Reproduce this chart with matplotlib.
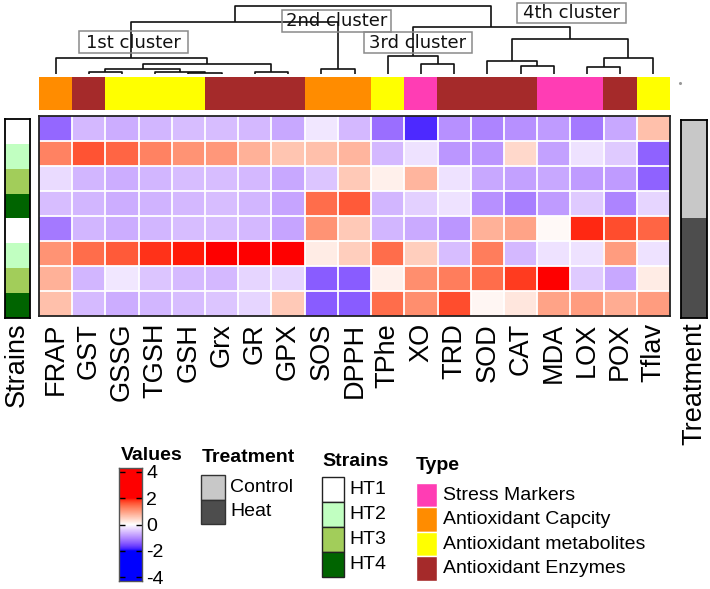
import numpy as np
import matplotlib
matplotlib.use("Agg")
import matplotlib.pyplot as plt
from matplotlib.colors import ListedColormap, Normalize
from matplotlib.patches import Rectangle

# ---------------- data ----------------
variables = ["FRAP", "GST", "GSSG", "TGSH", "GSH", "Grx", "GR", "GPX", "SOS", "DPPH",
             "TPhe", "XO", "TRD", "SOD", "CAT", "MDA", "LOX", "POX", "Tflav"]
var_type = ["Antioxidant Capcity", "Antioxidant Enzymes", "Antioxidant metabolites",
            "Antioxidant metabolites", "Antioxidant metabolites", "Antioxidant Enzymes",
            "Antioxidant Enzymes", "Antioxidant Enzymes", "Antioxidant Capcity",
            "Antioxidant Capcity", "Antioxidant metabolites", "Stress Markers",
            "Antioxidant Enzymes", "Antioxidant Enzymes", "Antioxidant Enzymes",
            "Stress Markers", "Stress Markers", "Antioxidant Enzymes",
            "Antioxidant metabolites"]
strains = ["HT1", "HT2", "HT3", "HT4", "HT1", "HT2", "HT3", "HT4"]
treatment = ["Control"] * 4 + ["Heat"] * 4

row1 = [-1.3, -0.6, -0.7, -0.62, -0.55, -0.55, -0.6, -0.75, -0.2, -0.6,
        -1.25, -1.8, -0.95, -1.05, -0.95, -0.85, -1.15, -0.75, 0.65]
row2 = [1.25, 1.65, 1.5, 1.25, 1.1, 1.05, 0.8, 0.6, 0.65, 0.75,
        -0.6, -0.25, -0.9, -0.9, 0.4, -0.8, -0.25, -0.45, -1.35]
row3 = [-0.3, -0.62, -0.7, -0.62, -0.55, -0.55, -0.6, -0.75, -0.5, 0.55,
        0.15, 0.75, -0.25, -0.75, -0.8, -0.75, -0.85, -0.85, -1.35]
row4 = [-0.55, -0.62, -0.7, -0.65, -0.6, -0.55, -0.62, -0.78, 1.45, 1.6,
        -0.62, -0.4, -0.25, -0.95, -1.1, -0.85, -0.45, -1.05, -0.35]
row5 = [-1.15, -0.62, -0.7, -0.62, -0.55, -0.55, -0.6, -0.78, 1.1, 0.55,
        -0.62, -0.72, -0.9, 0.8, 0.95, 0.05, 1.9, 1.7, 1.5]
row6 = [1.1, 1.45, 1.6, 1.85, 1.95, 2.05, 2.05, 2.05, 0.2, 0.5,
        1.45, 0.5, -0.55, 1.3, -0.6, -0.25, -0.25, 1.0, -0.25]
row7 = [0.8, -0.62, -0.2, -0.5, -0.58, -0.6, -0.35, -0.35, -1.4, -1.4,
        0.15, 1.15, 1.3, 1.45, 1.8, 2.0, -0.45, -0.75, 0.2]
row8 = [0.65, -0.58, -0.7, -0.62, -0.55, -0.5, -0.35, 0.55, -1.4, -1.4,
        1.45, 1.15, 1.7, 0.08, 0.25, 0.95, 1.0, 0.85, 1.0]
values = np.array([row1, row2, row3, row4, row5, row6, row7, row8])

# dendrogram merges: (child_a, child_b, height); ints refer to earlier merges
merges = [
    ("GST", "GSSG", 2.0),     # 0
    ("GSH", "Grx", 0.8),      # 1
    ("TGSH", 1, 1.8),         # 2
    (0, 2, 5.3),              # 3
    ("GR", "GPX", 2.0),       # 4
    (3, 4, 10.3),             # 5
    ("FRAP", 5, 16.0),        # 6
    ("SOS", "DPPH", 5.0),     # 7
    (6, 7, 52.0),             # 8
    ("XO", "TRD", 10.0),      # 9
    ("TPhe", 9, 18.0),        # 10
    ("CAT", "MDA", 8.0),      # 11
    ("SOD", 11, 13.3),        # 12
    ("LOX", "POX", 7.3),      # 13
    (13, "Tflav", 15.7),      # 14
    (12, 14, 35.0),           # 15
    (10, 15, 47.0),           # 16
    (8, 16, 68.0),            # 17
]
cluster_labels = ["1st cluster", "2nd cluster", "3rd cluster", "4th cluster"]

type_colors = {"Stress Markers": "#FF3DB4", "Antioxidant Capcity": "#FF8C00",
               "Antioxidant metabolites": "#FFFF00", "Antioxidant Enzymes": "#A52A2A"}
strain_colors = {"HT1": "#FFFFFF", "HT2": "#C1FFC1", "HT3": "#A2CD5A", "HT4": "#006400"}
treat_colors = {"Control": "#C8C8C8", "Heat": "#4D4D4D"}

# ---------------- LAB colour ramp (blue-white-red, -2..2) ----------------
M = np.array([[0.4124, 0.3576, 0.1805], [0.2126, 0.7152, 0.0722], [0.0193, 0.1192, 0.9505]])
WHITE = np.array([0.95047, 1.0, 1.08883])


def to_lab(rgb):
    c = np.asarray(rgb, float)
    lin = np.where(c <= 0.04045, c / 12.92, ((c + 0.055) / 1.055) ** 2.4)
    xyz = M @ lin / WHITE
    f = np.where(xyz > 0.008856, np.cbrt(xyz), 7.787 * xyz + 16 / 116)
    return np.array([116 * f[1] - 16, 500 * (f[0] - f[1]), 200 * (f[1] - f[2])])


def from_lab(lab):
    L, a, b = lab
    fy = (L + 16) / 116
    f = np.array([fy + a / 500, fy, fy - b / 200])
    xyz = np.where(f ** 3 > 0.008856, f ** 3, (f - 16 / 116) / 7.787) * WHITE
    lin = np.linalg.solve(M, xyz)
    c = np.where(lin <= 0.0031308, 12.92 * lin, 1.055 * np.clip(lin, 0, None) ** (1 / 2.4) - 0.055)
    return np.clip(c, 0, 1)


lab_b, lab_w, lab_r = to_lab([0, 0, 1]), to_lab([1, 1, 1]), to_lab([1, 0, 0])
cols = []
for t in np.linspace(-1, 1, 256):
    if t < 0:
        lab = lab_w + (lab_b - lab_w) * (-t)
    else:
        lab = lab_w + (lab_r - lab_w) * t
    cols.append(from_lab(lab))
cmap = ListedColormap(cols)
norm = Normalize(-2, 2, clip=True)

# ---------------- figure ----------------
W, H = 710, 589
fig = plt.figure(figsize=(W / 100, H / 100), dpi=100)
plt.rcParams["font.family"] = ["Liberation Sans", "DejaVu Sans"]


def px_axes(x0, y0, x1, y1, **kw):
    return fig.add_axes([x0 / W, 1 - y1 / H, (x1 - x0) / W, (y1 - y0) / H], **kw)


ncol, nrow = len(variables), len(strains)
HX0, HX1, HY0, HY1 = 39, 670, 116, 316

# heatmap
ax = px_axes(HX0, HY0, HX1, HY1)
ax.imshow(values, cmap=cmap, norm=norm, aspect="auto", interpolation="nearest",
          extent=(0, ncol, nrow, 0))
for i in range(1, ncol):
    ax.axvline(i, color="white", lw=1.3)
for j in range(1, nrow):
    ax.axhline(j, color="white", lw=1.3)
ax.set_xlim(0, ncol)
ax.set_ylim(nrow, 0)
ax.set_yticks([])
ax.set_xticks(np.arange(ncol) + 0.5)
ax.set_xticklabels(variables, rotation=90, fontsize=19.5, va="top")
ax.tick_params(axis="x", length=0, pad=5)
for s in ax.spines.values():
    s.set_linewidth(1.3)
    s.set_color("#222222")

# type annotation bar
axt = px_axes(HX0, 77, HX1, 110)
axt.imshow([[matplotlib.colors.to_rgb(type_colors[t]) for t in var_type]], aspect="auto",
           interpolation="nearest", extent=(0, ncol, 1, 0))
axt.set_xlim(0, ncol)
axt.axis("off")

# strains bar
axs = px_axes(5, 119, 30, 318)
axs.imshow([[matplotlib.colors.to_rgb(strain_colors[s])] for s in strains], aspect="auto",
           interpolation="nearest", extent=(0, 1, nrow, 0))
axs.set_xticks([]); axs.set_yticks([])
for s in axs.spines.values():
    s.set_linewidth(1.3)

# treatment bar
axr = px_axes(681, 120, 707, 318)
axr.imshow([[matplotlib.colors.to_rgb(treat_colors[t])] for t in treatment], aspect="auto",
           interpolation="nearest", extent=(0, 1, nrow, 0))
axr.set_xticks([]); axr.set_yticks([])
for s in axr.spines.values():
    s.set_linewidth(1.3)

# dendrogram
axd = px_axes(HX0, 6, HX1, 74)
axd.set_xlim(0, ncol)
axd.set_ylim(0, 68)
axd.axis("off")
nodes = []


def node_pos(n):
    if isinstance(n, str):
        return variables.index(n) + 0.5, 0.0
    return nodes[n]


for a, b, h in merges:
    xa, ha = node_pos(a)
    xb, hb = node_pos(b)
    axd.plot([xa, xa, xb, xb], [ha, h, h, hb], color="#111111", lw=1.2,
             solid_capstyle="butt", clip_on=False)
    nodes.append(((xa + xb) / 2, h))

# overlay in pixel coordinates
ov = fig.add_axes([0, 0, 1, 1], zorder=10)
ov.set_xlim(0, W)
ov.set_ylim(H, 0)
ov.axis("off")
ov.patch.set_alpha(0)

boxes = [(79, 31, 188, 53), (282, 10, 391, 32), (364, 32, 472, 53), (517, 3, 626, 23)]
for lab, (x0, y0, x1, y1) in zip(cluster_labels, boxes):
    ov.add_patch(Rectangle((x0, y0), x1 - x0, y1 - y0, fill=False, ec="#8a8a8a", lw=1.1))
    ov.text((x0 + x1) / 2, (y0 + y1) / 2 + 0.5, lab, ha="center", va="center",
            fontsize=13, family="DejaVu Sans", color="#111111")

ov.plot([680], [83], marker="o", ms=1.2, color="#999999")

ov.text(17, 322, "Strains", rotation=90, ha="center", va="top", fontsize=19.5)
ov.text(694, 322, "Treatment", rotation=90, ha="center", va="top", fontsize=19.5)

# Values legend (colour bar)
ov.text(121, 455, "Values", fontsize=14, fontweight="bold", va="center", ha="left")
axc = px_axes(119, 468, 142, 581)
grad = np.linspace(4.3, -4.3, 200).reshape(-1, 1)
axc.imshow(grad, cmap=cmap, norm=norm, aspect="auto", extent=(0, 1, -4.3, 4.3))
axc.set_xlim(0, 1)
axc.set_ylim(-4.3, 4.3)
axc.set_xticks([])
ticks = [4, 2, 0, -2, -4]
axc.set_yticks(ticks)
axc.yaxis.tick_right()
axc.set_yticklabels([str(t) for t in ticks], fontsize=14)
axc.tick_params(axis="y", direction="in", length=4, width=1, pad=3, left=True)
for s in axc.spines.values():
    s.set_linewidth(1.0)
    s.set_color("#555555")

# Treatment legend
ov.text(202, 458, "Treatment", fontsize=14, fontweight="bold", va="center", ha="left")
for k, name in enumerate(["Control", "Heat"]):
    y0 = 475 + k * 24.5
    ov.add_patch(Rectangle((201, y0), 24, 24.5, fc=treat_colors[name], ec="#333333", lw=1.0))
    ov.text(230, y0 + 12.5, name, fontsize=14, va="center", ha="left")

# Strains legend
ov.text(322, 462, "Strains", fontsize=14, fontweight="bold", va="center", ha="left")
for k, name in enumerate(["HT1", "HT2", "HT3", "HT4"]):
    y0 = 476.5 + k * 25.1
    ov.add_patch(Rectangle((322, y0), 21.5, 25.1, fc=strain_colors[name], ec="#222222", lw=1.0))
    ov.text(349, y0 + 12.8, name, fontsize=14, va="center", ha="left")

# Type legend
ov.text(416, 466, "Type", fontsize=14, fontweight="bold", va="center", ha="left")
for k, name in enumerate(["Stress Markers", "Antioxidant Capcity",
                          "Antioxidant metabolites", "Antioxidant Enzymes"]):
    y0 = 482.7 + k * 24.5
    ov.add_patch(Rectangle((416, y0), 21, 24.5, fc=type_colors[name], ec="white", lw=1.0))
    ov.text(443, y0 + 12.5, name, fontsize=14, va="center", ha="left")

fig.savefig("out.png", dpi=100)
